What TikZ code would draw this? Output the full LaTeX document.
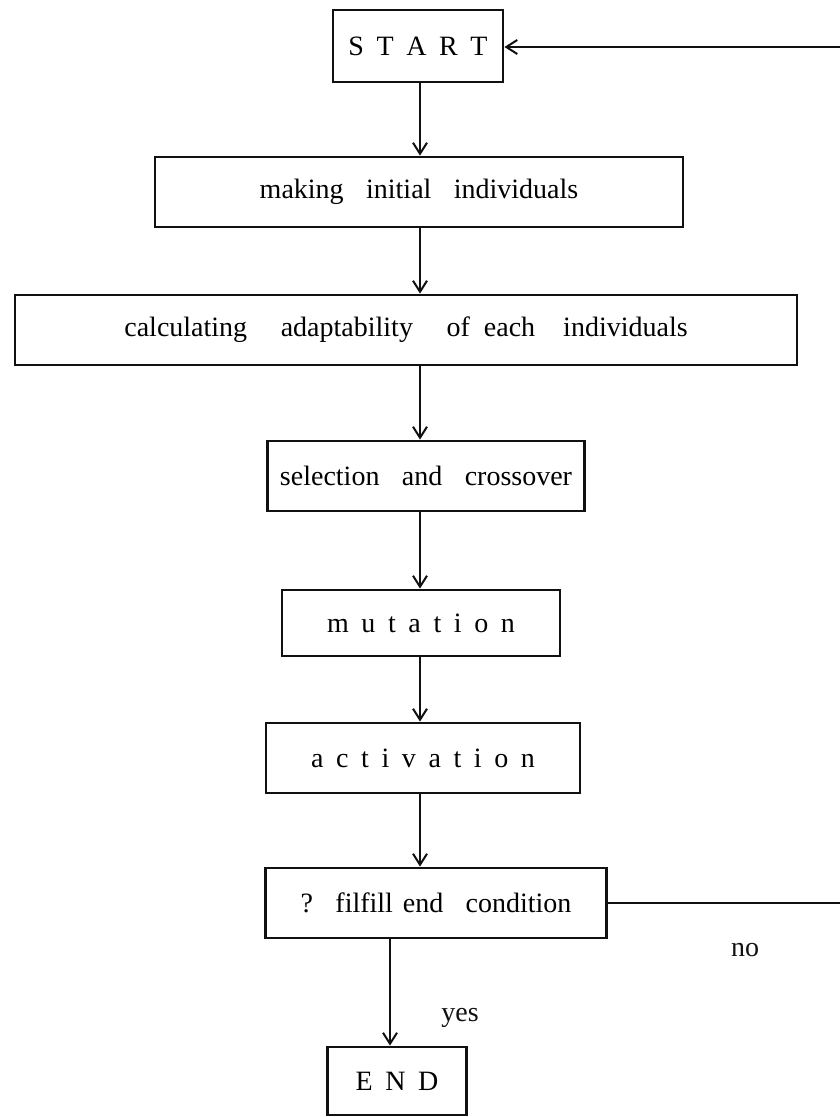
\documentclass[tikz,border=0pt]{standalone}
\usepackage{fontspec}
\setmainfont{Liberation Serif}
\usetikzlibrary{arrows.meta}
\definecolor{gaInk}{HTML}{111111}
\newcommand{\lsp}{\hspace{0.45em}}
\newcommand{\wsp}{\hspace{0.8em}}
\newcommand{\nsp}{\hspace{0.35em}}
\tikzset{
  ga box/.style={draw=gaInk, line width=2.8pt, inner sep=0pt, font=\fontsize{28}{34}\selectfont},
  ga flow/.style={draw=gaInk, line width=2.8pt, -{Straight Barb[length=11pt,width=14pt,line width=2pt]}},
  ga loop/.style={draw=gaInk, line width=1.6pt},
  ga label/.style={font=\fontsize{28}{34}\selectfont, text=gaInk},
}

\begin{document}
\begin{tikzpicture}[x=1pt,y=-1pt]
  \useasboundingbox (0,0) rectangle (840,1117);
  % boxes of the loop
  \node[ga box, minimum width=170pt, minimum height=72pt] (start) at (418,46) {S\lsp T\lsp A\lsp R\lsp T};
  \node[ga box, minimum width=528pt, minimum height=70pt] (init) at (419,192) {making\wsp initial\wsp individuals};
  \node[ga box, minimum width=782pt, minimum height=70pt] (calc) at (406,330) {calculating\hspace{1.2em}adaptability\hspace{1.2em}of\hspace{0.5em}each\hspace{1em}individuals\hspace{36pt}};
  \node[ga box, minimum width=317pt, minimum height=70pt] (select) at (426,476) {selection\wsp and\wsp crossover};
  \node[ga box, minimum width=278pt, minimum height=66pt] (mutate) at (421,623) {m\lsp u\lsp t\lsp a\lsp t\lsp i\lsp o\lsp n};
  \node[ga box, minimum width=314pt, minimum height=70pt] (activ) at (423,758) {a\lsp c\lsp t\lsp i\lsp v\lsp a\lsp t\lsp i\lsp o\lsp n};
  \node[ga box, minimum width=341pt, minimum height=70pt] (cond) at (436,903) {?\wsp filfill\nsp end\wsp condition};
  \node[ga box, minimum width=139pt, minimum height=68pt] (stop) at (397,1081) {E\lsp N\lsp D};
  % arrows down the middle
  \coordinate (spine) at (420,0);
  \coordinate (drop) at (390,0);
  \draw[ga flow] (start.south -| spine) -- (init.north -| spine);
  \draw[ga flow] (init.south -| spine) -- (calc.north -| spine);
  \draw[ga flow] (calc.south -| spine) -- (select.north -| spine);
  \draw[ga flow] (select.south -| spine) -- (mutate.north -| spine);
  \draw[ga flow] (mutate.south -| spine) -- (activ.north -| spine);
  \draw[ga flow] (activ.south -| spine) -- (cond.north -| spine);
  \draw[ga flow] (cond.south -| drop) -- (stop.north -| drop);
  % way back to start
  \coordinate (back out) at (840,903);
  \coordinate (back in) at (840,47);
  \draw[ga loop] (cond.east) -- (back out);
  \draw[ga flow, line width=1.8pt] (back in) -- (start.east |- back in);
  \node[ga label] (no) at (745,950) {no};
  \node[ga label] (yes) at (460,1018) {yes};
\end{tikzpicture}
\end{document}
